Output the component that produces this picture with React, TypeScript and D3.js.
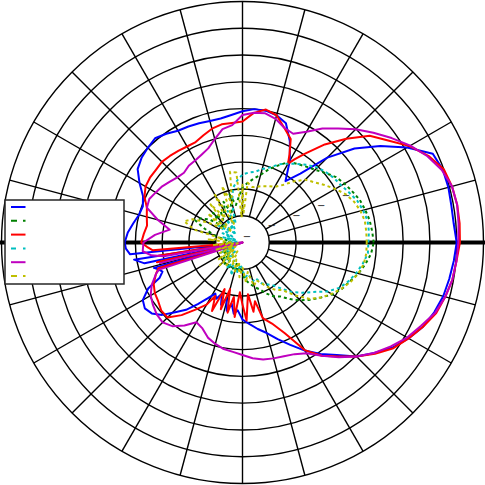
import React from 'react';
import * as d3 from 'd3';

const W = 485;
const H = 485;
const CX = 242.5;
const CY = 242.5;
const R_OUT = 241;

// radial axis (dB)
const R_MIN = -25;
const R_MAX = 20;
const R_TICKS = [-25, -20, -15, -10, -5, 0, 5, 10, 15, 20];
const SPOKE_ANGLES = d3.range(0, 360, 15);
const TICK_LABEL_ANGLE = 22.5;

// ---- series data (angle in degrees CCW from east, value in dB) ----
const blueAngles = [0,5,10,15,20,25,30,35,40,45,50,55,60,65,70,75,80,85,90,95,100,105,110,115,120,125,130,135,140,145,150,155,160,165,170,175,180,183,186,188,189,192,194,196,198,200,203,206,210,214,218,222,226,230,234,238,242,245,248,251,254,257,260,263,266,270,275,280,285,290,295,300,305,310,315,320,325,330,335,340,345,350,355];
const blueValues = [15.0,14.6,14.6,14.8,14.8,14.2,10.5,6.4,2.3,-2.6,-8.2,-11.0,-7.3,-4.1,-1.3,-0.4,0.0,0.0,-0.5,-1.1,-1.5,-1.5,-1.3,-1.1,-0.9,-0.2,0.4,0.0,-0.4,-1.1,-2.8,-4.5,-5.2,-5.0,-4.3,-3.5,-3.0,-3.2,-3.9,-25,-4.5,-6.3,-25,-7.8,-8.6,-9.1,-8.2,-5.4,-3.5,-3.0,-3.5,-4.8,-6.9,-8.6,-10.8,-12.7,-14.2,-13.4,-14.7,-12.7,-14.2,-11.9,-13.4,-11.6,-12.3,-10.6,-9.7,-8.6,-7.5,-5.8,-3.9,-1.7,0.4,2.4,5.1,7.1,9.2,10.8,12.2,13.1,13.8,14.2,14.6];

const redAngles = [0,5,10,15,20,25,30,35,40,45,50,55,58,60,62,65,70,75,80,85,90,95,100,105,110,115,120,125,130,135,140,145,150,155,160,165,170,175,180,183,185,187,189,191,193,195,197,200,205,210,215,220,225,230,235,240,243,246,249,252,255,258,261,264,267,270,273,276,279,282,285,290,295,300,305,310,315,320,325,330,335,340,345,350,355];
const redValues = [15.6,15.7,15.7,15.5,15.0,13.3,11.0,8.2,6.0,2.4,-1.1,-4.8,-6.7,-8.0,-6.3,-3.7,-2.2,-0.4,0.2,-0.7,-2.4,-2.6,-2.6,-3.0,-3.7,-4.3,-4.3,-4.1,-3.9,-3.7,-3.9,-3.9,-4.1,-4.8,-6.0,-6.5,-6.9,-6.5,-6.1,-7.3,-8.2,-25,-9.1,-25,-8.6,-25,-8.6,-7.8,-6.7,-6.1,-5.8,-5.2,-5.2,-7.3,-9.7,-11.6,-13.8,-11.0,-15.7,-11.9,-16.0,-11.6,-14.7,-11.0,-15.7,-13.4,-10.4,-15.3,-11.9,-13.8,-10.4,-8.9,-6.3,-1.8,0.8,2.8,5.1,7.3,9.4,10.8,12.2,13.5,14.2,14.8,15.1];

const magentaAngles = [0,5,10,15,20,25,30,35,40,45,50,55,60,65,70,75,80,85,90,95,100,105,110,115,120,125,130,135,140,145,150,155,160,165,170,175,180,185,188,190,192,194,196,198,200,205,210,215,220,225,230,235,240,245,250,255,260,265,270,275,280,285,290,295,300,305,310,315,320,325,330,335,340,345,350,355];
const magentaValues = [15.3,15.5,15.7,15.5,14.6,13.1,11.2,9.0,6.9,4.9,2.8,1.0,-1.1,-2.6,-2.2,-1.1,-0.5,-0.7,-1.2,-3.0,-3.5,-5.0,-6.3,-6.9,-7.3,-7.5,-8.0,-7.8,-7.3,-6.7,-6.3,-5.8,-6.0,-8.6,-11.2,-8.6,-6.5,-6.3,-7.8,-10.1,-25,-9.1,-25,-8.6,-7.8,-6.3,-5.2,-4.6,-4.1,-3.9,-4.6,-6.1,-7.8,-7.3,-6.1,-5.4,-4.8,-4.5,-4.0,-3.3,-2.8,-2.6,-2.4,-2.0,-1.1,0.8,3.0,5.1,7.1,8.8,10.5,11.8,13.3,14.2,14.8,15.1];

const dashedAngles = d3.range(0, 360, 5);
const cyanValues = [-1.5,-1.3,-1.3,-1.7,-2.2,-3.0,-3.7,-4.1,-4.6,-5.2,-6.1,-7.1,-8.0,-8.9,-10.1,-10.8,-11.6,-11.9,-12.3,-13.4,-14.7,-17.5,-21.3,-18.5,-22.2,-19.8,-23.1,-20.3,-21.6,-19.4,-22.8,-20.9,-23.5,-21.3,-24.1,-22.2,-23.1,-21.6,-24.1,-20.9,-22.8,-20.3,-23.5,-21.3,-22.2,-19.8,-22.8,-20.3,-19.4,-21.3,-18.5,-20.3,-19.4,-20.9,-19.8,-18.5,-19.0,-17.5,-17.9,-16.6,-16.0,-15.3,-13.8,-11.9,-10.4,-8.9,-6.7,-5.0,-3.9,-3.0,-2.2,-1.5];
const greenValues = [-0.5,-0.7,-0.9,-1.3,-1.7,-2.4,-3.0,-3.7,-4.8,-5.8,-6.5,-7.1,-7.6,-9.1,-10.4,-11.9,-12.9,-13.8,-14.7,-16.6,-17.9,-15.7,-19.4,-16.6,-18.5,-17.9,-19.4,-17.2,-20.3,-17.5,-16.0,-15.3,-17.5,-19.4,-21.3,-22.8,-21.6,-23.5,-22.2,-23.1,-21.3,-22.8,-20.9,-22.2,-20.3,-21.6,-19.8,-20.9,-19.4,-20.3,-19.8,-20.9,-19.4,-20.3,-19.0,-17.9,-17.2,-16.4,-15.7,-14.5,-13.4,-12.7,-11.2,-9.7,-8.4,-7.1,-5.6,-4.5,-3.7,-2.6,-1.7,-0.9];
const yellowAngles = [0,5,10,15,20,25,30,35,40,45,50,55,60,65,70,75,80,85,88,90,92,95,100,105,110,115,120,125,130,135,140,145,150,155,160,165,170,175,180,185,190,195,200,205,210,215,220,225,230,235,240,245,250,255,260,265,270,275,280,285,290,295,300,305,310,315,320,325,330,335,340,345,350,355];
const yellowValues = [-1.8,-1.8,-1.8,-2.2,-2.8,-3.7,-5.0,-6.3,-7.5,-8.4,-10.1,-11.9,-13.0,-13.4,-13.8,-14.2,-14.5,-13.8,-19.4,-14.2,-20.3,-11.9,-11.6,-17.5,-13.8,-21.3,-14.7,-19.4,-15.7,-22.2,-16.6,-20.3,-17.5,-14.7,-13.4,-15.7,-21.3,-18.5,-23.1,-19.4,-24.1,-19.8,-23.1,-20.3,-23.5,-19.4,-22.8,-19.0,-22.2,-19.8,-23.1,-20.3,-21.6,-19.4,-21.3,-18.5,-20.3,-17.5,-19.4,-16.6,-17.5,-16.6,-15.3,-14.2,-13.4,-11.0,-8.6,-7.1,-5.8,-4.6,-3.5,-2.6,-2.0,-1.8];

const seriesNames = ['Series 1', 'Series 2', 'Series 3', 'Series 4', 'Series 5', 'Series 6'];
const seriesColors = ['#0000ff', '#008000', '#ff0000', '#00bfbf', '#bf00bf', '#bfbf00'];
const seriesDash = ['none', '3,3', 'none', '3,3', 'none', '3,3'];
const legendDash = ['none', '6,6', 'none', '5,7', 'none', '6,6'];

type Pt = { a: number; v: number };
const zip = (angles: number[], values: number[]): Pt[] => angles.map((a, i) => ({ a, v: values[i] }));

const series = [
  zip(blueAngles, blueValues),
  zip(dashedAngles, greenValues),
  zip(redAngles, redValues),
  zip(dashedAngles, cyanValues),
  zip(magentaAngles, magentaValues),
  zip(yellowAngles, yellowValues),
];

export default function App() {
  const r = d3.scaleLinear().domain([R_MIN, R_MAX]).range([0, R_OUT]).clamp(true);
  const rInner = r(R_TICKS[1]);
  const toRad = (deg: number) => (deg * Math.PI) / 180;

  const radial = d3
    .lineRadial<Pt>()
    .angle((d) => toRad(90 - d.a))
    .radius((d) => r(d.v))
    .curve(d3.curveLinearClosed);

  const legendX = 5, legendY = 200, legendW = 119, legendH = 84;
  const legendRowY = (i: number) => legendY + 7 + i * 13.8;

  return (
    <svg
      width={W}
      height={H}
      style={{ position: 'absolute', left: 0, top: 0, background: '#fff' }}
    >
      <rect x={0} y={0} width={W} height={H} fill="#fff" />
      <g transform={`translate(${CX},${CY})`}>
        {R_TICKS.slice(1).map((t) => (
          <circle key={t} r={r(t)} fill="none" stroke="#000" strokeWidth={1.4} />
        ))}
        {SPOKE_ANGLES.map((a) => {
          const c = Math.cos(toRad(a));
          const s = -Math.sin(toRad(a));
          return (
            <line
              key={a}
              x1={rInner * c}
              y1={rInner * s}
              x2={R_OUT * c}
              y2={R_OUT * s}
              stroke="#000"
              strokeWidth={1.4}
            />
          );
        })}
        <line x1={rInner} y1={0} x2={R_OUT + 3} y2={0} stroke="#000" strokeWidth={4} />
        <line x1={-rInner} y1={0} x2={-R_OUT - 3} y2={0} stroke="#000" strokeWidth={4} />
        {R_TICKS.filter((t) => t < 0).map((t) => {
          const rr = r(t);
          const x = rr * Math.cos(toRad(TICK_LABEL_ANGLE)) + 4.5;
          const y = -rr * Math.sin(toRad(TICK_LABEL_ANGLE)) - 6.5;
          return (
            <text
              key={t}
              x={x}
              y={y}
              fontFamily="DejaVu Sans"
              fontSize={10}
              textAnchor="middle"
              dominantBaseline="central"
              fill="#222"
            >
              −
            </text>
          );
        })}
        {series.map((pts, i) => (
          <path
            key={seriesNames[i]}
            d={radial(pts) || ''}
            fill="none"
            stroke={seriesColors[i]}
            strokeWidth={2}
            strokeDasharray={seriesDash[i]}
            strokeLinejoin="round"
          />
        ))}
      </g>
      <g>
        <rect
          x={legendX}
          y={legendY}
          width={legendW}
          height={legendH}
          fill="#fff"
          stroke="#262626"
          strokeWidth={1.5}
        />
        {seriesNames.map((n, i) => (
          <line
            key={n}
            x1={11}
            x2={25.5}
            y1={legendRowY(i)}
            y2={legendRowY(i)}
            stroke={seriesColors[i]}
            strokeWidth={2}
            strokeDasharray={legendDash[i]}
          />
        ))}
      </g>
    </svg>
  );
}
